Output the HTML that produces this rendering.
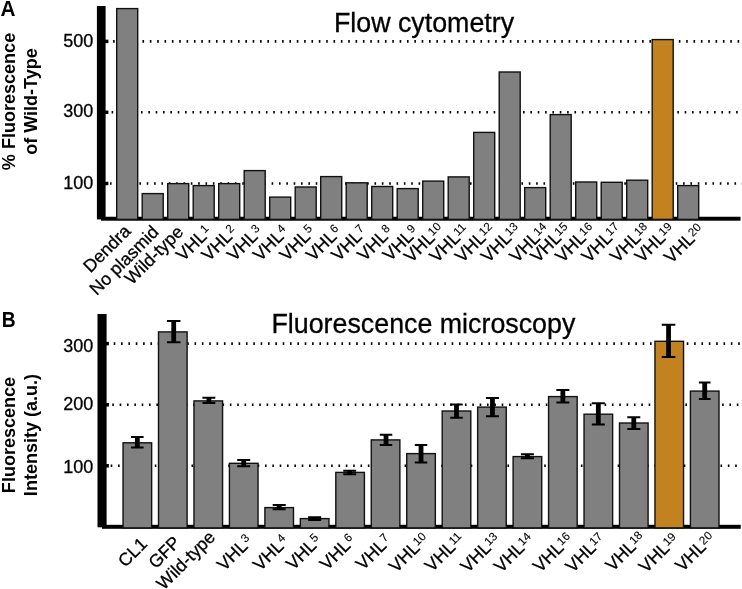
<!DOCTYPE html>
<html><head><meta charset="utf-8"><title>Figure</title>
<style>html,body{margin:0;padding:0;background:#fff}svg{display:block;will-change:transform}text{stroke:#000;stroke-width:.3px}text[font-weight=bold]{stroke:none}</style>
</head><body>
<svg width="742" height="589" viewBox="0 0 742 589" font-family='"Liberation Sans", Arial, Helvetica, sans-serif' fill="#000">
<rect width="742" height="589" fill="#fff"/>
<line x1="113.10" y1="41.4" x2="742" y2="41.4" stroke="#000" stroke-width="2.6" stroke-dasharray="1.6 5.747"/>
<line x1="111.60" y1="112.3" x2="742" y2="112.3" stroke="#000" stroke-width="2.6" stroke-dasharray="1.6 5.747"/>
<line x1="110.00" y1="183.5" x2="742" y2="183.5" stroke="#000" stroke-width="2.6" stroke-dasharray="1.6 5.747"/>
<rect x="96.9" y="6" width="8.7" height="213.4" fill="#000"/>
<rect x="101" y="216.75" width="639.5" height="3.95" fill="#000"/>
<rect x="116.70" y="8.60" width="21.00" height="210.80" fill="#808080" stroke="#111" stroke-width="1.4"/>
<rect x="142.20" y="193.60" width="21.00" height="25.80" fill="#808080" stroke="#111" stroke-width="1.4"/>
<rect x="167.70" y="183.60" width="21.00" height="35.80" fill="#808080" stroke="#111" stroke-width="1.4"/>
<rect x="193.20" y="185.60" width="21.00" height="33.80" fill="#808080" stroke="#111" stroke-width="1.4"/>
<rect x="218.70" y="183.60" width="21.00" height="35.80" fill="#808080" stroke="#111" stroke-width="1.4"/>
<rect x="244.20" y="170.60" width="21.00" height="48.80" fill="#808080" stroke="#111" stroke-width="1.4"/>
<rect x="269.70" y="197.10" width="21.00" height="22.30" fill="#808080" stroke="#111" stroke-width="1.4"/>
<rect x="295.20" y="187.00" width="21.00" height="32.40" fill="#808080" stroke="#111" stroke-width="1.4"/>
<rect x="320.70" y="176.60" width="21.00" height="42.80" fill="#808080" stroke="#111" stroke-width="1.4"/>
<rect x="346.20" y="182.80" width="21.00" height="36.60" fill="#808080" stroke="#111" stroke-width="1.4"/>
<rect x="371.70" y="186.50" width="21.00" height="32.90" fill="#808080" stroke="#111" stroke-width="1.4"/>
<rect x="397.20" y="188.60" width="21.00" height="30.80" fill="#808080" stroke="#111" stroke-width="1.4"/>
<rect x="422.70" y="181.10" width="21.00" height="38.30" fill="#808080" stroke="#111" stroke-width="1.4"/>
<rect x="448.20" y="176.90" width="21.00" height="42.50" fill="#808080" stroke="#111" stroke-width="1.4"/>
<rect x="473.70" y="132.40" width="21.00" height="87.00" fill="#808080" stroke="#111" stroke-width="1.4"/>
<rect x="499.20" y="72.00" width="21.00" height="147.40" fill="#808080" stroke="#111" stroke-width="1.4"/>
<rect x="524.70" y="187.60" width="21.00" height="31.80" fill="#808080" stroke="#111" stroke-width="1.4"/>
<rect x="550.20" y="114.60" width="21.00" height="104.80" fill="#808080" stroke="#111" stroke-width="1.4"/>
<rect x="575.70" y="182.00" width="21.00" height="37.40" fill="#808080" stroke="#111" stroke-width="1.4"/>
<rect x="601.20" y="182.30" width="21.00" height="37.10" fill="#808080" stroke="#111" stroke-width="1.4"/>
<rect x="626.70" y="180.20" width="21.00" height="39.20" fill="#808080" stroke="#111" stroke-width="1.4"/>
<rect x="652.20" y="39.60" width="21.00" height="179.80" fill="#c38220" stroke="#111" stroke-width="1.4"/>
<rect x="677.70" y="185.60" width="21.00" height="33.80" fill="#808080" stroke="#111" stroke-width="1.4"/>
<rect x="105" y="39.65" width="3.4" height="3.5" fill="#000"/>
<text x="93.4" y="47.2" font-size="18" text-anchor="end">500</text>
<rect x="105" y="110.55" width="3.4" height="3.5" fill="#000"/>
<text x="93.4" y="116.5" font-size="18" text-anchor="end">300</text>
<rect x="105" y="181.75" width="3.4" height="3.5" fill="#000"/>
<text x="93.4" y="188.8" font-size="18" text-anchor="end">100</text>
<text transform="translate(131.7,232.2) rotate(-45)" font-size="17.8" text-anchor="end">Dendra</text>
<text transform="translate(159.7,233.1) rotate(-45)" font-size="17.8" text-anchor="end">No plasmid</text>
<text transform="translate(184.4,233.0) rotate(-45)" font-size="17.8" text-anchor="end">Wild-type</text>
<g transform="translate(207.8,237.6) rotate(-45)" font-size="17.8"><text text-anchor="end">VHL</text><text x="0.6" y="-5.0" font-size="11.7" style="stroke-width:.1px">1</text></g>
<g transform="translate(233.3,237.6) rotate(-45)" font-size="17.8"><text text-anchor="end">VHL</text><text x="0.6" y="-5.0" font-size="11.7" style="stroke-width:.1px">2</text></g>
<g transform="translate(258.8,237.6) rotate(-45)" font-size="17.8"><text text-anchor="end">VHL</text><text x="0.6" y="-5.0" font-size="11.7" style="stroke-width:.1px">3</text></g>
<g transform="translate(284.7,237.6) rotate(-45)" font-size="17.8"><text text-anchor="end">VHL</text><text x="0.6" y="-5.0" font-size="11.7" style="stroke-width:.1px">4</text></g>
<g transform="translate(311.3,237.6) rotate(-45)" font-size="17.8"><text text-anchor="end">VHL</text><text x="0.6" y="-5.0" font-size="11.7" style="stroke-width:.1px">5</text></g>
<g transform="translate(337.7,237.6) rotate(-45)" font-size="17.8"><text text-anchor="end">VHL</text><text x="0.6" y="-5.0" font-size="11.7" style="stroke-width:.1px">6</text></g>
<g transform="translate(363.0,237.6) rotate(-45)" font-size="17.8"><text text-anchor="end">VHL</text><text x="0.6" y="-5.0" font-size="11.7" style="stroke-width:.1px">7</text></g>
<g transform="translate(389.0,237.6) rotate(-45)" font-size="17.8"><text text-anchor="end">VHL</text><text x="0.6" y="-5.0" font-size="11.7" style="stroke-width:.1px">8</text></g>
<g transform="translate(414.5,237.6) rotate(-45)" font-size="17.8"><text text-anchor="end">VHL</text><text x="0.6" y="-5.0" font-size="11.7" style="stroke-width:.1px">9</text></g>
<g transform="translate(435.7,239.1) rotate(-45)" font-size="17.8"><text text-anchor="end">VHL</text><text x="-0.3" y="-4.1" font-size="11.7" style="stroke-width:.1px">10</text></g>
<g transform="translate(461.2,239.1) rotate(-45)" font-size="17.8"><text text-anchor="end">VHL</text><text x="-0.3" y="-4.1" font-size="11.7" style="stroke-width:.1px">11</text></g>
<g transform="translate(486.7,239.1) rotate(-45)" font-size="17.8"><text text-anchor="end">VHL</text><text x="-0.3" y="-4.1" font-size="11.7" style="stroke-width:.1px">12</text></g>
<g transform="translate(512.6,239.1) rotate(-45)" font-size="17.8"><text text-anchor="end">VHL</text><text x="-0.3" y="-4.1" font-size="11.7" style="stroke-width:.1px">13</text></g>
<g transform="translate(541.1,239.1) rotate(-45)" font-size="17.8"><text text-anchor="end">VHL</text><text x="-0.3" y="-4.1" font-size="11.7" style="stroke-width:.1px">14</text></g>
<g transform="translate(562.2,239.1) rotate(-45)" font-size="17.8"><text text-anchor="end">VHL</text><text x="-0.3" y="-4.1" font-size="11.7" style="stroke-width:.1px">15</text></g>
<g transform="translate(586.9,239.1) rotate(-45)" font-size="17.8"><text text-anchor="end">VHL</text><text x="-0.3" y="-4.1" font-size="11.7" style="stroke-width:.1px">16</text></g>
<g transform="translate(613.2,239.1) rotate(-45)" font-size="17.8"><text text-anchor="end">VHL</text><text x="-0.3" y="-4.1" font-size="11.7" style="stroke-width:.1px">17</text></g>
<g transform="translate(641.8,239.1) rotate(-45)" font-size="17.8"><text text-anchor="end">VHL</text><text x="-0.3" y="-4.1" font-size="11.7" style="stroke-width:.1px">18</text></g>
<g transform="translate(666.4,239.1) rotate(-45)" font-size="17.8"><text text-anchor="end">VHL</text><text x="-0.3" y="-4.1" font-size="11.7" style="stroke-width:.1px">19</text></g>
<g transform="translate(695.8,239.9) rotate(-45)" font-size="17.8"><text text-anchor="end">VHL</text><text x="-0.3" y="-4.1" font-size="11.7" style="stroke-width:.1px">20</text></g>
<text x="424" y="32" font-size="26.8" text-anchor="middle">Flow cytometry</text>
<text transform="translate(0.5,15.9) scale(0.968,1)" font-size="21.5" font-weight="bold">A</text>
<text transform="translate(15.1,101.5) rotate(-90) scale(0.992,1)" font-size="18.2" font-weight="bold" text-anchor="middle">% Fluorescence</text>
<text transform="translate(37.2,101.5) rotate(-90) scale(0.992,1)" font-size="18.2" font-weight="bold" text-anchor="middle">of Wild-Type</text>
<line x1="113.70" y1="343.6" x2="742" y2="343.6" stroke="#000" stroke-width="2.6" stroke-dasharray="1.6 5.747"/>
<line x1="112.30" y1="404.8" x2="742" y2="404.8" stroke="#000" stroke-width="2.6" stroke-dasharray="1.6 5.747"/>
<line x1="110.70" y1="465.8" x2="742" y2="465.8" stroke="#000" stroke-width="2.6" stroke-dasharray="1.6 5.747"/>
<rect x="97.5" y="314" width="9.1" height="213.3" fill="#000"/>
<rect x="102" y="524.8" width="638.7" height="4.0" fill="#000"/>
<rect x="123.05" y="442.80" width="28.60" height="85.10" fill="#808080" stroke="#111" stroke-width="1.4"/>
<rect x="158.51" y="331.90" width="28.60" height="196.00" fill="#808080" stroke="#111" stroke-width="1.4"/>
<rect x="193.97" y="400.90" width="28.60" height="127.00" fill="#808080" stroke="#111" stroke-width="1.4"/>
<rect x="229.43" y="463.30" width="28.60" height="64.60" fill="#808080" stroke="#111" stroke-width="1.4"/>
<rect x="264.89" y="507.60" width="28.60" height="20.30" fill="#808080" stroke="#111" stroke-width="1.4"/>
<rect x="300.35" y="518.60" width="28.60" height="9.30" fill="#808080" stroke="#111" stroke-width="1.4"/>
<rect x="335.81" y="472.40" width="28.60" height="55.50" fill="#808080" stroke="#111" stroke-width="1.4"/>
<rect x="371.27" y="439.90" width="28.60" height="88.00" fill="#808080" stroke="#111" stroke-width="1.4"/>
<rect x="406.73" y="453.60" width="28.60" height="74.30" fill="#808080" stroke="#111" stroke-width="1.4"/>
<rect x="442.19" y="411.00" width="28.60" height="116.90" fill="#808080" stroke="#111" stroke-width="1.4"/>
<rect x="477.65" y="407.10" width="28.60" height="120.80" fill="#808080" stroke="#111" stroke-width="1.4"/>
<rect x="513.11" y="456.60" width="28.60" height="71.30" fill="#808080" stroke="#111" stroke-width="1.4"/>
<rect x="548.57" y="396.60" width="28.60" height="131.30" fill="#808080" stroke="#111" stroke-width="1.4"/>
<rect x="584.03" y="414.20" width="28.60" height="113.70" fill="#808080" stroke="#111" stroke-width="1.4"/>
<rect x="619.49" y="423.00" width="28.60" height="104.90" fill="#808080" stroke="#111" stroke-width="1.4"/>
<rect x="654.95" y="341.30" width="28.60" height="186.60" fill="#c38220" stroke="#111" stroke-width="1.4"/>
<rect x="690.41" y="391.10" width="28.60" height="136.80" fill="#808080" stroke="#111" stroke-width="1.4"/>
<path d="M137.35 437.00V447.50" stroke="#000" stroke-width="4.8" fill="none"/>
<path d="M131.10 437.00h12.5M131.10 447.50h12.5" stroke="#000" stroke-width="2" fill="none"/>
<path d="M173.71 320.90V342.20" stroke="#000" stroke-width="4.8" fill="none"/>
<path d="M166.96 320.90h13.5M166.96 342.20h13.5" stroke="#000" stroke-width="2" fill="none"/>
<path d="M208.87 397.80V403.00" stroke="#000" stroke-width="4.8" fill="none"/>
<path d="M202.42 397.80h12.9M202.42 403.00h12.9" stroke="#000" stroke-width="2" fill="none"/>
<path d="M243.73 460.00V466.20" stroke="#000" stroke-width="4.8" fill="none"/>
<path d="M237.23 460.00h13M237.23 466.20h13" stroke="#000" stroke-width="2" fill="none"/>
<path d="M279.19 505.10V509.20" stroke="#000" stroke-width="4.8" fill="none"/>
<path d="M272.69 505.10h13M272.69 509.20h13" stroke="#000" stroke-width="2" fill="none"/>
<path d="M314.65 517.30V519.90" stroke="#000" stroke-width="4.8" fill="none"/>
<path d="M308.15 517.30h13M308.15 519.90h13" stroke="#000" stroke-width="2" fill="none"/>
<path d="M349.71 470.80V474.20" stroke="#000" stroke-width="4.8" fill="none"/>
<path d="M343.26 470.80h12.9M343.26 474.20h12.9" stroke="#000" stroke-width="2" fill="none"/>
<path d="M386.02 434.70V445.00" stroke="#000" stroke-width="4.8" fill="none"/>
<path d="M379.77 434.70h12.5M379.77 445.00h12.5" stroke="#000" stroke-width="2" fill="none"/>
<path d="M421.03 445.00V462.50" stroke="#000" stroke-width="4.8" fill="none"/>
<path d="M414.78 445.00h12.5M414.78 462.50h12.5" stroke="#000" stroke-width="2" fill="none"/>
<path d="M456.49 404.50V417.80" stroke="#000" stroke-width="4.8" fill="none"/>
<path d="M450.24 404.50h12.5M450.24 417.80h12.5" stroke="#000" stroke-width="2" fill="none"/>
<path d="M492.45 398.00V416.30" stroke="#000" stroke-width="4.8" fill="none"/>
<path d="M485.95 398.00h13M485.95 416.30h13" stroke="#000" stroke-width="2" fill="none"/>
<path d="M527.41 454.20V458.30" stroke="#000" stroke-width="4.8" fill="none"/>
<path d="M520.91 454.20h13M520.91 458.30h13" stroke="#000" stroke-width="2" fill="none"/>
<path d="M562.87 390.00V402.50" stroke="#000" stroke-width="4.8" fill="none"/>
<path d="M556.37 390.00h13M556.37 402.50h13" stroke="#000" stroke-width="2" fill="none"/>
<path d="M598.33 403.30V424.40" stroke="#000" stroke-width="4.8" fill="none"/>
<path d="M591.83 403.30h13M591.83 424.40h13" stroke="#000" stroke-width="2" fill="none"/>
<path d="M633.79 417.20V428.90" stroke="#000" stroke-width="4.8" fill="none"/>
<path d="M627.29 417.20h13M627.29 428.90h13" stroke="#000" stroke-width="2" fill="none"/>
<path d="M668.55 324.70V357.10" stroke="#000" stroke-width="4.8" fill="none"/>
<path d="M661.75 324.70h13.6M661.75 357.10h13.6" stroke="#000" stroke-width="2" fill="none"/>
<path d="M704.71 382.50V398.90" stroke="#000" stroke-width="4.8" fill="none"/>
<path d="M698.86 382.50h11.7M698.86 398.90h11.7" stroke="#000" stroke-width="2" fill="none"/>
<rect x="106" y="341.85" width="2.9" height="3.5" fill="#000"/>
<text x="93.4" y="351.7" font-size="18" text-anchor="end">300</text>
<rect x="106" y="403.05" width="2.9" height="3.5" fill="#000"/>
<text x="93.4" y="409.6" font-size="18" text-anchor="end">200</text>
<rect x="106" y="464.05" width="2.9" height="3.5" fill="#000"/>
<text x="93.4" y="473.3" font-size="18" text-anchor="end">100</text>
<text transform="translate(148.2,544.9) rotate(-45)" font-size="17.8" text-anchor="end">CL1</text>
<text transform="translate(181.5,543.7) rotate(-45)" font-size="17.8" text-anchor="end">GFP</text>
<text transform="translate(216.2,538.3) rotate(-45)" font-size="17.8" text-anchor="end">Wild-type</text>
<g transform="translate(248.7,547.2) rotate(-45)" font-size="17.8"><text text-anchor="end">VHL</text><text x="0.6" y="-5.0" font-size="11.7" style="stroke-width:.1px">3</text></g>
<g transform="translate(284.7,547.2) rotate(-45)" font-size="17.8"><text text-anchor="end">VHL</text><text x="0.6" y="-5.0" font-size="11.7" style="stroke-width:.1px">4</text></g>
<g transform="translate(317.6,546.6) rotate(-45)" font-size="17.8"><text text-anchor="end">VHL</text><text x="0.6" y="-5.0" font-size="11.7" style="stroke-width:.1px">5</text></g>
<g transform="translate(351.5,546.6) rotate(-45)" font-size="17.8"><text text-anchor="end">VHL</text><text x="0.6" y="-5.0" font-size="11.7" style="stroke-width:.1px">6</text></g>
<g transform="translate(387.5,546.6) rotate(-45)" font-size="17.8"><text text-anchor="end">VHL</text><text x="0.6" y="-5.0" font-size="11.7" style="stroke-width:.1px">7</text></g>
<g transform="translate(420.7,549.0) rotate(-45)" font-size="17.8"><text text-anchor="end">VHL</text><text x="-0.3" y="-4.1" font-size="11.7" style="stroke-width:.1px">10</text></g>
<g transform="translate(456.5,548.2) rotate(-45)" font-size="17.8"><text text-anchor="end">VHL</text><text x="-0.3" y="-4.1" font-size="11.7" style="stroke-width:.1px">11</text></g>
<g transform="translate(492.1,549.0) rotate(-45)" font-size="17.8"><text text-anchor="end">VHL</text><text x="-0.3" y="-4.1" font-size="11.7" style="stroke-width:.1px">13</text></g>
<g transform="translate(525.6,549.0) rotate(-45)" font-size="17.8"><text text-anchor="end">VHL</text><text x="-0.3" y="-4.1" font-size="11.7" style="stroke-width:.1px">14</text></g>
<g transform="translate(564.7,548.8) rotate(-45)" font-size="17.8"><text text-anchor="end">VHL</text><text x="-0.3" y="-4.1" font-size="11.7" style="stroke-width:.1px">16</text></g>
<g transform="translate(597.1,549.0) rotate(-45)" font-size="17.8"><text text-anchor="end">VHL</text><text x="-0.3" y="-4.1" font-size="11.7" style="stroke-width:.1px">17</text></g>
<g transform="translate(637.1,547.7) rotate(-45)" font-size="17.8"><text text-anchor="end">VHL</text><text x="-0.3" y="-4.1" font-size="11.7" style="stroke-width:.1px">18</text></g>
<g transform="translate(670.5,549.2) rotate(-45)" font-size="17.8"><text text-anchor="end">VHL</text><text x="-0.3" y="-4.1" font-size="11.7" style="stroke-width:.1px">19</text></g>
<g transform="translate(706.9,548.1) rotate(-45)" font-size="17.8"><text text-anchor="end">VHL</text><text x="-0.3" y="-4.1" font-size="11.7" style="stroke-width:.1px">20</text></g>
<text x="423.4" y="333.2" font-size="26.8" text-anchor="middle">Fluorescence microscopy</text>
<text transform="translate(1.8,327.4) scale(0.893,1)" font-size="21.5" font-weight="bold">B</text>
<text transform="translate(15.1,435) rotate(-90) scale(0.992,1)" font-size="18.2" font-weight="bold" text-anchor="middle">Fluorescence</text>
<text transform="translate(37.2,435) rotate(-90) scale(0.992,1)" font-size="18.2" font-weight="bold" text-anchor="middle">Intensity (a.u.)</text>
</svg>
</body></html>
